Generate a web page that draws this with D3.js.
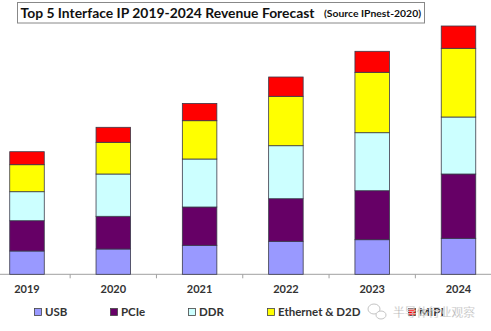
<!DOCTYPE html>
<html><head><meta charset="utf-8">
<script src="https://cdn.jsdelivr.net/npm/d3@7"></script>
<style>html,body{margin:0;padding:0;background:#fff;}svg{display:block;}</style>
</head><body>
<svg id="chart" width="491" height="331"></svg>
<script>
const years = ["2019","2020","2021","2022","2023","2024"];
const seriesNames = ["USB","PCIe","DDR","Ethernet & D2D","MIPI"];
const usb  = [23.3, 25.3, 29.0, 33.0, 34.6, 36.0];
const pcie = [30.3, 32.7, 38.3, 42.6, 49.0, 64.3];
const ddr  = [29.0, 42.3, 48.0, 53.0, 58.0, 57.0];
const eth  = [27.0, 31.7, 38.3, 49.4, 60.4, 68.7];
const mipi = [13.0, 15.0, 17.3, 19.3, 21.0, 22.3];
const colors = ["#9999ff","#660066","#ccffff","#ffff00","#ff0000"];
const title = "Top 5 Interface IP 2019-2024 Revenue Forecast";
const source = "(Source IPnest-2020)";
const watermark = "半导体行业观察";

const svg = d3.select("#chart");
const baseY = 274.3;
const x = d3.scaleBand().domain(years).range([-16.15, 501.65]).paddingInner(0.6).paddingOuter(0.3);
const y = d3.scaleLinear().domain([0, 250]).range([baseY, 24.3]);

const table = years.map((yr, i) => ({year: yr, USB: usb[i], PCIe: pcie[i], DDR: ddr[i], "Ethernet & D2D": eth[i], MIPI: mipi[i]}));
const stacked = d3.stack().keys(seriesNames)(table);

// axis line
svg.append("line").attr("x1", 0).attr("x2", 491).attr("y1", baseY).attr("y2", baseY)
  .attr("stroke", "#a0a0a0").attr("stroke-width", 1);
const step = x.step();
years.slice(1).forEach(yr => {
  const bx = x(yr) - step * x.paddingInner() / 2;
  svg.append("line").attr("x1", bx).attr("x2", bx).attr("y1", baseY).attr("y2", baseY + 4)
    .attr("stroke", "#a0a0a0").attr("stroke-width", 1);
});

// bars
stacked.forEach((s, si) => {
  svg.append("g").selectAll("rect").data(s).join("rect")
    .attr("x", d => x(d.data.year))
    .attr("y", d => y(d[1]))
    .attr("width", x.bandwidth())
    .attr("height", d => y(d[0]) - y(d[1]))
    .attr("fill", colors[si])
    .attr("stroke", "#3a3a4a").attr("stroke-width", 0.8);
});

// year labels
svg.append("g").selectAll("text").data(years).join("text")
  .attr("x", d => x(d) + x.bandwidth() / 2)
  .attr("y", 292.5)
  .attr("text-anchor", "middle")
  .attr("font-family", "Lato, 'Open Sans', sans-serif")
  .attr("font-weight", "bold").attr("font-size", 11).attr("fill", "#333")
  .text(d => d);

// title box
svg.append("rect").attr("x", 17.5).attr("y", 2.5).attr("width", 407).attr("height", 20.5)
  .attr("fill", "#fff").attr("stroke", "#888").attr("stroke-width", 1);
svg.append("text").attr("x", 20.5).attr("y", 18)
  .attr("font-family", "Lato, 'Open Sans', sans-serif").attr("font-weight", "bold")
  .attr("font-size", 14).attr("fill", "#111")
  .attr("textLength", 294).attr("lengthAdjust", "spacingAndGlyphs")
  .text(title);
svg.append("text").attr("x", 324).attr("y", 17)
  .attr("font-family", "Lato, 'Open Sans', sans-serif").attr("font-weight", "bold")
  .attr("font-size", 9.5).attr("fill", "#111")
  .attr("textLength", 97).attr("lengthAdjust", "spacingAndGlyphs")
  .text(source);

// legend
const legendX = [34, 110, 188, 267, 408];
const lg = svg.append("g");
seriesNames.forEach((n, i) => {
  lg.append("rect").attr("x", legendX[i] + 0.5).attr("y", 308.5).attr("width", 7).attr("height", 7)
    .attr("fill", colors[i]).attr("stroke", "#444").attr("stroke-width", 0.8);
  lg.append("text").attr("x", legendX[i] + 11).attr("y", 316)
    .attr("font-family", "Lato, 'Open Sans', sans-serif").attr("font-weight", "bold")
    .attr("font-size", 11.5).attr("fill", "#333").text(n);
});

// watermark
const wm = svg.append("g").attr("opacity", 0.85);
wm.append("ellipse").attr("cx", 374).attr("cy", 309).attr("rx", 6).attr("ry", 5)
  .attr("fill", "none").attr("stroke", "#bbb").attr("stroke-width", 1);
wm.append("ellipse").attr("cx", 381).attr("cy", 315).attr("rx", 5).attr("ry", 4)
  .attr("fill", "#fff").attr("stroke", "#bbb").attr("stroke-width", 1);
wm.append("text").attr("x", 393).attr("y", 317)
  .attr("font-family", "'Noto Sans CJK SC', sans-serif")
  .attr("font-size", 12.5).attr("fill", "#999")
  .attr("stroke", "#fff").attr("stroke-width", 0.3)
  .attr("textLength", 82).attr("lengthAdjust", "spacingAndGlyphs")
  .text(watermark);
</script>
</body></html>
